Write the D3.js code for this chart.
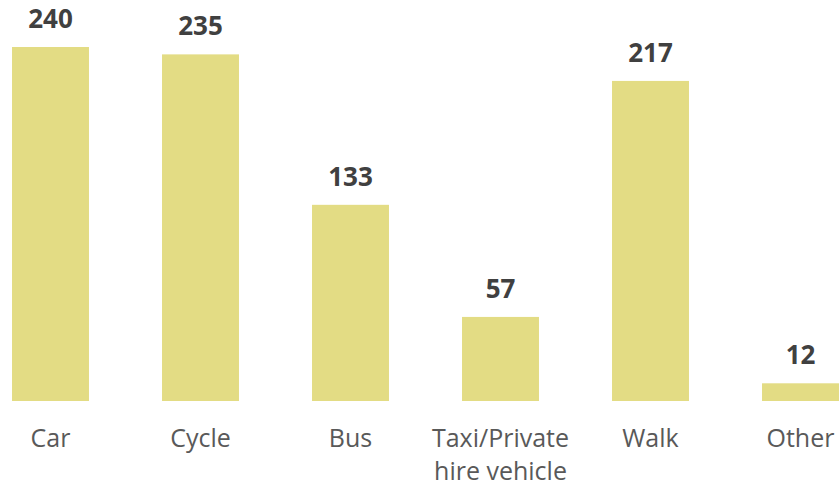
<!DOCTYPE html>
<html>
<head>
<meta charset="utf-8">
<script src="https://cdn.jsdelivr.net/npm/d3@7"></script>
<style>
  body { margin: 0; background: #fff; }
  svg { display: block; font-family: "Open Sans", sans-serif; }
</style>
</head>
<body>
<script>
const categories = ['Car', 'Cycle', 'Bus', 'Taxi/Private hire vehicle', 'Walk', 'Other']
const labelLines = [['Car'], ['Cycle'], ['Bus'], ['Taxi/Private', 'hire vehicle'], ['Walk'], ['Other']]
const values = [240, 235, 133, 57, 217, 12]

const width = 839
const height = 486
const baseline = 401

const svg = d3.select('body')
  .append('svg')
  .attr('width', width)
  .attr('height', height)

const xscale = d3.scaleBand()
  .domain(categories)
  .range([-24.5, 875.5])
  .paddingInner(0.487)
  .paddingOuter(0.2435)

const yscale = d3.scaleLinear().domain([0, 240]).range([baseline, 47])

const data = categories.map((c, i) => ({cat: c, value: values[i], lines: labelLines[i]}))

svg.selectAll('rect')
  .data(data)
  .join('rect')
  .attr('x', (d) => xscale(d.cat))
  .attr('y', (d) => yscale(d.value))
  .attr('width', xscale.bandwidth())
  .attr('height', (d) => baseline - yscale(d.value))
  .attr('fill', '#e3dc84')

svg.selectAll('text.val')
  .data(data)
  .join('text')
  .attr('class', 'val')
  .attr('x', (d) => xscale(d.cat) + xscale.bandwidth() / 2)
  .attr('y', (d) => yscale(d.value) - 19)
  .attr('text-anchor', 'middle')
  .attr('font-size', 26)
  .attr('font-weight', 'bold')
  .attr('fill', '#404040')
  .text((d) => d.value)

const cat = svg.selectAll('text.cat')
  .data(data)
  .join('text')
  .attr('class', 'cat')
  .attr('x', (d) => xscale(d.cat) + xscale.bandwidth() / 2)
  .attr('y', 447)
  .attr('text-anchor', 'middle')
  .attr('font-size', 25)
  .attr('fill', '#595959')

cat.selectAll('tspan')
  .data((d) => d.lines.map((l) => ({line: l, x: xscale(d.cat) + xscale.bandwidth() / 2})))
  .join('tspan')
  .attr('x', (d) => d.x)
  .attr('dy', (d, i) => i === 0 ? 0 : 33)
  .text((d) => d.line)
</script>
</body>
</html>
